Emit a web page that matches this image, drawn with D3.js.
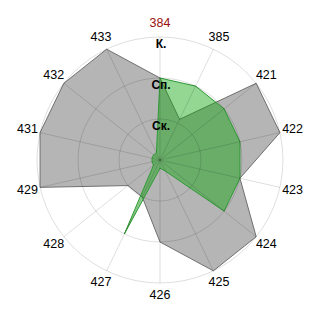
<!DOCTYPE html>
<html><head><meta charset="utf-8">
<script src="https://cdn.jsdelivr.net/npm/d3@7"></script>
<style>body{margin:0;background:#fff}svg{display:block}</style>
</head><body>
<svg id="c" width="320" height="320"></svg>
<script>
const categories = ["384","385","421","422","423","424","425","426","427","428","429","431","432","433"];
const grayValues = [2, 1.1, 3, 3, 2, 3, 3, 2, 1, 1, 3, 3, 3, 3];
const greenValues = [2, 2, 2, 2, 2, 2, 0.3, 0.2, 2, 0.2, 0.2, 0.2, 0.2, 0.2];
const levelValues = [1, 2, 3];
const levelLabels = ["Ск.", "Сп.", "К."];
const highlightCategory = "384";

const cx = 160, cy = 160, R = 123;
const svg = d3.select("#c");
const g = svg.append("g").attr("transform", `translate(${cx},${cy})`);

const r = d3.scaleLinear().domain([0, 3]).range([0, R]);
const angle = d3.scalePoint().domain(categories).range([0, 2 * Math.PI * (categories.length - 1) / categories.length]);

const radial = d3.lineRadial()
  .angle((d, i) => angle(categories[i]))
  .radius(d => r(d))
  .curve(d3.curveLinearClosed);

g.append("path").datum(grayValues)
  .attr("d", radial)
  .attr("fill", "#b5b5b5")
  .attr("stroke", "#707070")
  .attr("stroke-width", 1);

g.append("path").datum(greenValues)
  .attr("d", radial)
  .attr("fill", "rgba(10,165,10,0.44)")
  .attr("stroke", "#2f9a35")
  .attr("stroke-width", 1);

// grid on top
const grid = g.append("g").attr("fill", "none").attr("stroke", "rgba(0,0,0,0.13)").attr("stroke-width", 1);
levelValues.forEach(v => grid.append("circle").attr("r", r(v)));
categories.forEach(c => {
  const a = angle(c);
  grid.append("line")
    .attr("x1", 0).attr("y1", 0)
    .attr("x2", r(3) * Math.sin(a)).attr("y2", -r(3) * Math.cos(a));
});

// level labels
levelValues.forEach((v, i) => {
  g.append("text")
    .attr("x", 1).attr("y", -r(v) + 8)
    .attr("text-anchor", "middle").attr("dominant-baseline", "middle")
    .attr("font-family", "Liberation Sans, Arial, sans-serif")
    .attr("font-size", 12).attr("font-weight", "bold")
    .attr("fill", "#000")
    .text(levelLabels[i]);
});

// category labels
const labelR = R + 13;
categories.forEach(c => {
  const a = angle(c);
  g.append("text")
    .attr("x", labelR * Math.sin(a)).attr("y", -labelR * Math.cos(a))
    .attr("text-anchor", "middle").attr("dominant-baseline", "middle")
    .attr("font-family", "Liberation Sans, Arial, sans-serif")
    .attr("font-size", 12.5)
    .attr("fill", c === highlightCategory ? "#9b1010" : "#000")
    .text(c);
});
</script>
</body></html>
